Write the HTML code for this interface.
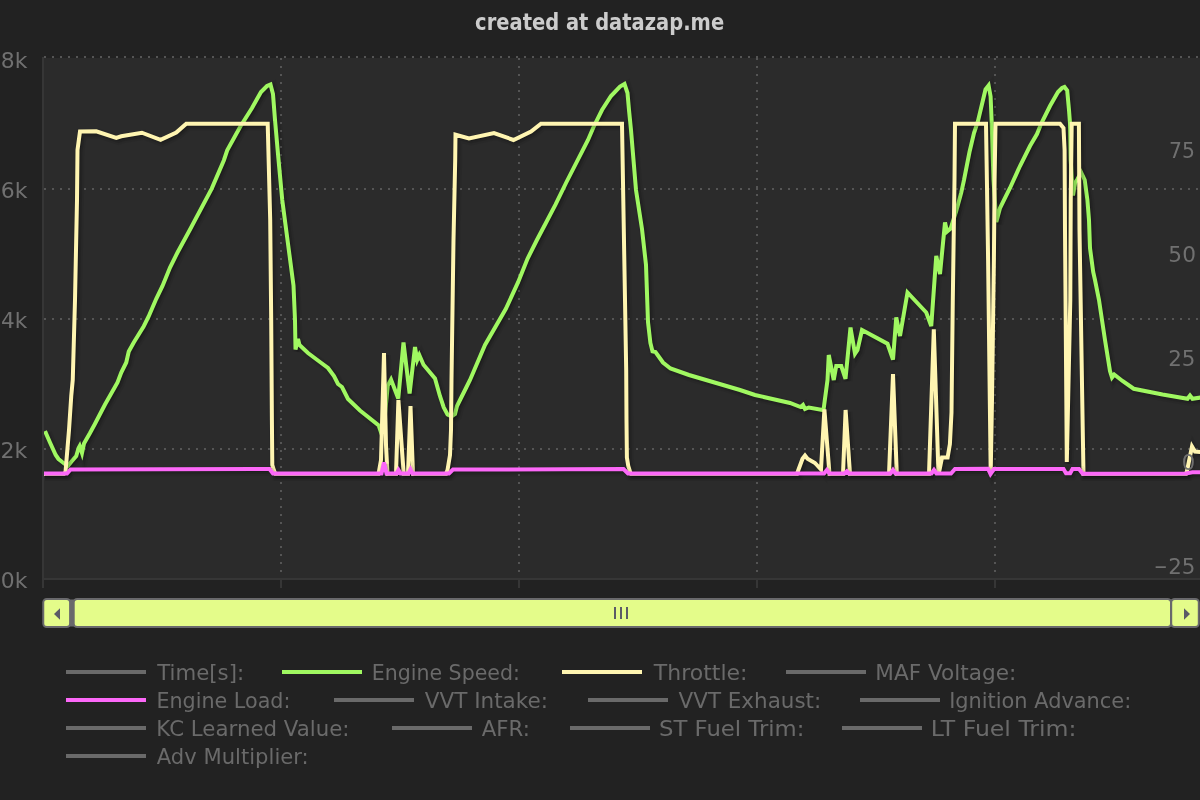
<!DOCTYPE html>
<html><head><meta charset="utf-8"><title>created at datazap.me</title>
<style>
html,body{margin:0;padding:0;background:#222222;overflow:hidden}
svg{display:block}
text{font-family:"DejaVu Sans","Liberation Sans",sans-serif}
</style></head><body>
<svg width="1200" height="800" viewBox="0 0 1200 800">
<rect x="0" y="0" width="1200" height="800" fill="#222222"/>
<rect x="42" y="58" width="1160" height="522" fill="#2b2b2b"/>

<path d="M44 57 L1204 57" stroke="#555555" stroke-width="2" stroke-dasharray="2,6" fill="none"/>
<path d="M44 189 L1204 189" stroke="#555555" stroke-width="2" stroke-dasharray="2,6" fill="none"/>
<path d="M44 319 L1204 319" stroke="#555555" stroke-width="2" stroke-dasharray="2,6" fill="none"/>
<path d="M44 449 L1204 449" stroke="#555555" stroke-width="2" stroke-dasharray="2,6" fill="none"/>
<path d="M281 58 L281 578" stroke="#555555" stroke-width="2" stroke-dasharray="2,6" fill="none"/>
<path d="M281 580 L281 588" stroke="#363636" stroke-width="2" fill="none"/>
<path d="M519 58 L519 578" stroke="#555555" stroke-width="2" stroke-dasharray="2,6" fill="none"/>
<path d="M519 580 L519 588" stroke="#363636" stroke-width="2" fill="none"/>
<path d="M757 58 L757 578" stroke="#555555" stroke-width="2" stroke-dasharray="2,6" fill="none"/>
<path d="M757 580 L757 588" stroke="#363636" stroke-width="2" fill="none"/>
<path d="M995 58 L995 578" stroke="#555555" stroke-width="2" stroke-dasharray="2,6" fill="none"/>
<path d="M995 580 L995 588" stroke="#363636" stroke-width="2" fill="none"/>
<path d="M43 57 L43 588" stroke="#363636" stroke-width="2" fill="none"/>
<path d="M42 579 L1204 579" stroke="#363636" stroke-width="2" fill="none"/>
<defs><clipPath id="pc"><rect x="44" y="50" width="1160" height="531"/></clipPath></defs>
<g clip-path="url(#pc)">
<path d="M45 431 L50 442.5 L55.7 455 L58.5 459 L62.25 462 L65 464 L68 465.8 L71.5 461.5 L76.25 456 L78.6 448 L79.7 446 L82 453 L84 443.5 L90 433 L95 423.75 L105 404.5 L117.5 382.5 L121.25 372.5 L126.25 362.5 L128.75 351.5 L133.75 342.5 L143.75 326.25 L148.75 316.25 L156.25 298.75 L162.5 286 L170 267.5 L177.5 252.5 L189.75 230 L211.7 188.6 L223.9 160.2 L227.2 150.4 L240.2 126.8 L252 108 L261 92 L267 86 L270.5 84.5 L273 94 L275 120 L278 154 L282.25 200 L293.5 285.5 L295 320 L295.5 349.5 L298 339 L299.5 345 L308 353 L320 362 L328 368 L334 376 L338 384 L342 387 L348 399 L360 410.5 L378.75 425.5 L380.6 431 L384 425 L387.75 385.5 L391 379.5 L398.25 398.5 L403.5 342.5 L409.6 393.5 L415 347 L417.2 360 L419.3 355 L423.5 364.7 L435 378.5 L440 396.25 L443.75 407.5 L447.5 414.4 L451.5 416.5 L455 414 L457 406 L461.25 397.5 L466.25 387.5 L470 380 L485 345 L506 308.5 L518.1 282.2 L527.5 258.75 L536.9 240 L546.25 222.2 L555.6 204.4 L566.25 182.5 L588 140 L594 126 L602 110 L611 96 L620 86.5 L624.5 84 L627.5 93 L629 110 L631 130 L636 190 L642 229 L646 265 L648 322 L650.4 343 L652.5 351.4 L655.5 352 L663 362.5 L670.5 368.5 L689 375 L740 390 L755 395 L790 403 L800.6 407 L803 405 L805 409 L808.75 407.5 L822.5 410 L823.5 410 L827.5 380 L828.75 355 L833.75 380 L836.25 366 L841.25 366 L845.5 378.75 L850.5 327.5 L855 353.75 L857.5 350 L862 330 L887.5 343.75 L893 359.5 L896.25 317.5 L900 336 L907.5 292.5 L926.25 312.5 L931.25 326 L936.25 256 L940 274 L945 222.5 L947 231.5 L950.6 228.5 L956.25 211 L961.25 192.5 L964 180 L969.5 152 L974 133 L978 121 L985.5 89.5 L988.6 85.5 L990.6 96.5 L991.65 121 L992.2 140 L993.5 180 L996.3 222 L1000 208 L1010 188 L1020 166 L1030 146 L1037 134 L1041 124 L1050 106 L1058 92 L1062 88 L1064.5 87 L1067.2 90.5 L1069 110 L1070 123 L1070.7 160 L1073 195.5 L1075 183 L1077.5 179 L1081.2 172.5 L1084.7 180 L1087.4 200 L1089 220 L1090 248 L1093.2 272 L1095 280 L1099 300 L1105 340 L1110 371 L1112 377.5 L1114.25 374.5 L1122.5 381 L1133.75 388.75 L1162.5 394.5 L1187.5 398.75 L1190 395.5 L1192.5 398.75 L1204 397" fill="none" stroke="#000" stroke-opacity="0.05" stroke-width="10" transform="translate(2,2)"/>
<path d="M45 431 L50 442.5 L55.7 455 L58.5 459 L62.25 462 L65 464 L68 465.8 L71.5 461.5 L76.25 456 L78.6 448 L79.7 446 L82 453 L84 443.5 L90 433 L95 423.75 L105 404.5 L117.5 382.5 L121.25 372.5 L126.25 362.5 L128.75 351.5 L133.75 342.5 L143.75 326.25 L148.75 316.25 L156.25 298.75 L162.5 286 L170 267.5 L177.5 252.5 L189.75 230 L211.7 188.6 L223.9 160.2 L227.2 150.4 L240.2 126.8 L252 108 L261 92 L267 86 L270.5 84.5 L273 94 L275 120 L278 154 L282.25 200 L293.5 285.5 L295 320 L295.5 349.5 L298 339 L299.5 345 L308 353 L320 362 L328 368 L334 376 L338 384 L342 387 L348 399 L360 410.5 L378.75 425.5 L380.6 431 L384 425 L387.75 385.5 L391 379.5 L398.25 398.5 L403.5 342.5 L409.6 393.5 L415 347 L417.2 360 L419.3 355 L423.5 364.7 L435 378.5 L440 396.25 L443.75 407.5 L447.5 414.4 L451.5 416.5 L455 414 L457 406 L461.25 397.5 L466.25 387.5 L470 380 L485 345 L506 308.5 L518.1 282.2 L527.5 258.75 L536.9 240 L546.25 222.2 L555.6 204.4 L566.25 182.5 L588 140 L594 126 L602 110 L611 96 L620 86.5 L624.5 84 L627.5 93 L629 110 L631 130 L636 190 L642 229 L646 265 L648 322 L650.4 343 L652.5 351.4 L655.5 352 L663 362.5 L670.5 368.5 L689 375 L740 390 L755 395 L790 403 L800.6 407 L803 405 L805 409 L808.75 407.5 L822.5 410 L823.5 410 L827.5 380 L828.75 355 L833.75 380 L836.25 366 L841.25 366 L845.5 378.75 L850.5 327.5 L855 353.75 L857.5 350 L862 330 L887.5 343.75 L893 359.5 L896.25 317.5 L900 336 L907.5 292.5 L926.25 312.5 L931.25 326 L936.25 256 L940 274 L945 222.5 L947 231.5 L950.6 228.5 L956.25 211 L961.25 192.5 L964 180 L969.5 152 L974 133 L978 121 L985.5 89.5 L988.6 85.5 L990.6 96.5 L991.65 121 L992.2 140 L993.5 180 L996.3 222 L1000 208 L1010 188 L1020 166 L1030 146 L1037 134 L1041 124 L1050 106 L1058 92 L1062 88 L1064.5 87 L1067.2 90.5 L1069 110 L1070 123 L1070.7 160 L1073 195.5 L1075 183 L1077.5 179 L1081.2 172.5 L1084.7 180 L1087.4 200 L1089 220 L1090 248 L1093.2 272 L1095 280 L1099 300 L1105 340 L1110 371 L1112 377.5 L1114.25 374.5 L1122.5 381 L1133.75 388.75 L1162.5 394.5 L1187.5 398.75 L1190 395.5 L1192.5 398.75 L1204 397" fill="none" stroke="#000" stroke-opacity="0.10" stroke-width="6" transform="translate(2,2)"/>
<path d="M45 431 L50 442.5 L55.7 455 L58.5 459 L62.25 462 L65 464 L68 465.8 L71.5 461.5 L76.25 456 L78.6 448 L79.7 446 L82 453 L84 443.5 L90 433 L95 423.75 L105 404.5 L117.5 382.5 L121.25 372.5 L126.25 362.5 L128.75 351.5 L133.75 342.5 L143.75 326.25 L148.75 316.25 L156.25 298.75 L162.5 286 L170 267.5 L177.5 252.5 L189.75 230 L211.7 188.6 L223.9 160.2 L227.2 150.4 L240.2 126.8 L252 108 L261 92 L267 86 L270.5 84.5 L273 94 L275 120 L278 154 L282.25 200 L293.5 285.5 L295 320 L295.5 349.5 L298 339 L299.5 345 L308 353 L320 362 L328 368 L334 376 L338 384 L342 387 L348 399 L360 410.5 L378.75 425.5 L380.6 431 L384 425 L387.75 385.5 L391 379.5 L398.25 398.5 L403.5 342.5 L409.6 393.5 L415 347 L417.2 360 L419.3 355 L423.5 364.7 L435 378.5 L440 396.25 L443.75 407.5 L447.5 414.4 L451.5 416.5 L455 414 L457 406 L461.25 397.5 L466.25 387.5 L470 380 L485 345 L506 308.5 L518.1 282.2 L527.5 258.75 L536.9 240 L546.25 222.2 L555.6 204.4 L566.25 182.5 L588 140 L594 126 L602 110 L611 96 L620 86.5 L624.5 84 L627.5 93 L629 110 L631 130 L636 190 L642 229 L646 265 L648 322 L650.4 343 L652.5 351.4 L655.5 352 L663 362.5 L670.5 368.5 L689 375 L740 390 L755 395 L790 403 L800.6 407 L803 405 L805 409 L808.75 407.5 L822.5 410 L823.5 410 L827.5 380 L828.75 355 L833.75 380 L836.25 366 L841.25 366 L845.5 378.75 L850.5 327.5 L855 353.75 L857.5 350 L862 330 L887.5 343.75 L893 359.5 L896.25 317.5 L900 336 L907.5 292.5 L926.25 312.5 L931.25 326 L936.25 256 L940 274 L945 222.5 L947 231.5 L950.6 228.5 L956.25 211 L961.25 192.5 L964 180 L969.5 152 L974 133 L978 121 L985.5 89.5 L988.6 85.5 L990.6 96.5 L991.65 121 L992.2 140 L993.5 180 L996.3 222 L1000 208 L1010 188 L1020 166 L1030 146 L1037 134 L1041 124 L1050 106 L1058 92 L1062 88 L1064.5 87 L1067.2 90.5 L1069 110 L1070 123 L1070.7 160 L1073 195.5 L1075 183 L1077.5 179 L1081.2 172.5 L1084.7 180 L1087.4 200 L1089 220 L1090 248 L1093.2 272 L1095 280 L1099 300 L1105 340 L1110 371 L1112 377.5 L1114.25 374.5 L1122.5 381 L1133.75 388.75 L1162.5 394.5 L1187.5 398.75 L1190 395.5 L1192.5 398.75 L1204 397" fill="none" stroke="#000" stroke-opacity="0.15" stroke-width="2" transform="translate(2,2)"/>
<path d="M45 431 L50 442.5 L55.7 455 L58.5 459 L62.25 462 L65 464 L68 465.8 L71.5 461.5 L76.25 456 L78.6 448 L79.7 446 L82 453 L84 443.5 L90 433 L95 423.75 L105 404.5 L117.5 382.5 L121.25 372.5 L126.25 362.5 L128.75 351.5 L133.75 342.5 L143.75 326.25 L148.75 316.25 L156.25 298.75 L162.5 286 L170 267.5 L177.5 252.5 L189.75 230 L211.7 188.6 L223.9 160.2 L227.2 150.4 L240.2 126.8 L252 108 L261 92 L267 86 L270.5 84.5 L273 94 L275 120 L278 154 L282.25 200 L293.5 285.5 L295 320 L295.5 349.5 L298 339 L299.5 345 L308 353 L320 362 L328 368 L334 376 L338 384 L342 387 L348 399 L360 410.5 L378.75 425.5 L380.6 431 L384 425 L387.75 385.5 L391 379.5 L398.25 398.5 L403.5 342.5 L409.6 393.5 L415 347 L417.2 360 L419.3 355 L423.5 364.7 L435 378.5 L440 396.25 L443.75 407.5 L447.5 414.4 L451.5 416.5 L455 414 L457 406 L461.25 397.5 L466.25 387.5 L470 380 L485 345 L506 308.5 L518.1 282.2 L527.5 258.75 L536.9 240 L546.25 222.2 L555.6 204.4 L566.25 182.5 L588 140 L594 126 L602 110 L611 96 L620 86.5 L624.5 84 L627.5 93 L629 110 L631 130 L636 190 L642 229 L646 265 L648 322 L650.4 343 L652.5 351.4 L655.5 352 L663 362.5 L670.5 368.5 L689 375 L740 390 L755 395 L790 403 L800.6 407 L803 405 L805 409 L808.75 407.5 L822.5 410 L823.5 410 L827.5 380 L828.75 355 L833.75 380 L836.25 366 L841.25 366 L845.5 378.75 L850.5 327.5 L855 353.75 L857.5 350 L862 330 L887.5 343.75 L893 359.5 L896.25 317.5 L900 336 L907.5 292.5 L926.25 312.5 L931.25 326 L936.25 256 L940 274 L945 222.5 L947 231.5 L950.6 228.5 L956.25 211 L961.25 192.5 L964 180 L969.5 152 L974 133 L978 121 L985.5 89.5 L988.6 85.5 L990.6 96.5 L991.65 121 L992.2 140 L993.5 180 L996.3 222 L1000 208 L1010 188 L1020 166 L1030 146 L1037 134 L1041 124 L1050 106 L1058 92 L1062 88 L1064.5 87 L1067.2 90.5 L1069 110 L1070 123 L1070.7 160 L1073 195.5 L1075 183 L1077.5 179 L1081.2 172.5 L1084.7 180 L1087.4 200 L1089 220 L1090 248 L1093.2 272 L1095 280 L1099 300 L1105 340 L1110 371 L1112 377.5 L1114.25 374.5 L1122.5 381 L1133.75 388.75 L1162.5 394.5 L1187.5 398.75 L1190 395.5 L1192.5 398.75 L1204 397" fill="none" stroke="#a0f861" stroke-width="4"/>
<path d="M43 474 L64 474 L65.5 472 L69 430 L71.25 396 L72.75 380 L75 300 L77 200 L77.5 150 L80 131.5 L96.25 131.25 L116.25 138 L121.25 136.25 L141.9 132.75 L160.6 139.75 L176.25 132.5 L186.25 123.7 L267.7 123.7 L270.2 220 L271.2 320 L271.9 420 L272.3 465 L274 470.5 L275.5 474 L378.5 474 L381 460 L384 353 L386 445 L387.5 474 L396 474 L398.4 400 L403.7 474 L408 474 L410.5 406 L413 474 L446 474 L447.5 470 L450 455 L451 430 L451.5 380 L453.5 240 L455.2 160 L455.5 134.7 L469 138.5 L494 133 L513.5 140 L531 131.5 L541 123.7 L622 123.7 L626.2 370 L626.5 420 L626.9 457.5 L628.3 466 L630.5 473 L631 474 L797 474 L798 471 L802.5 458.75 L805 455.5 L807.5 458.75 L815 463 L821 469.5 L824.4 409.4 L829.5 474 L843 474 L845.6 410 L850 474 L889 474 L893 374 L896.8 474 L929 474 L933.8 329.3 L938.5 474 L939.5 470 L942 457.5 L947.6 457.5 L949.9 444 L951.5 412.5 L952.8 300 L954.5 180 L955 123.7 L986 123.7 L986.9 180 L988.1 260 L989.8 400 L990.7 473 L992 400 L993.9 260 L994.6 180 L995.5 123.7 L1060 123.7 L1063.5 128 L1064.6 150 L1065 230 L1066.8 462 L1070.3 300 L1070.75 200 L1071.7 123.7 L1078.9 123.7 L1079.5 230 L1082.75 430 L1083.5 474 L1186 474 L1187 471 L1192 446.5 L1195 451.5 L1204 452.5" fill="none" stroke="#000" stroke-opacity="0.05" stroke-width="10" transform="translate(2,2)"/>
<path d="M43 474 L64 474 L65.5 472 L69 430 L71.25 396 L72.75 380 L75 300 L77 200 L77.5 150 L80 131.5 L96.25 131.25 L116.25 138 L121.25 136.25 L141.9 132.75 L160.6 139.75 L176.25 132.5 L186.25 123.7 L267.7 123.7 L270.2 220 L271.2 320 L271.9 420 L272.3 465 L274 470.5 L275.5 474 L378.5 474 L381 460 L384 353 L386 445 L387.5 474 L396 474 L398.4 400 L403.7 474 L408 474 L410.5 406 L413 474 L446 474 L447.5 470 L450 455 L451 430 L451.5 380 L453.5 240 L455.2 160 L455.5 134.7 L469 138.5 L494 133 L513.5 140 L531 131.5 L541 123.7 L622 123.7 L626.2 370 L626.5 420 L626.9 457.5 L628.3 466 L630.5 473 L631 474 L797 474 L798 471 L802.5 458.75 L805 455.5 L807.5 458.75 L815 463 L821 469.5 L824.4 409.4 L829.5 474 L843 474 L845.6 410 L850 474 L889 474 L893 374 L896.8 474 L929 474 L933.8 329.3 L938.5 474 L939.5 470 L942 457.5 L947.6 457.5 L949.9 444 L951.5 412.5 L952.8 300 L954.5 180 L955 123.7 L986 123.7 L986.9 180 L988.1 260 L989.8 400 L990.7 473 L992 400 L993.9 260 L994.6 180 L995.5 123.7 L1060 123.7 L1063.5 128 L1064.6 150 L1065 230 L1066.8 462 L1070.3 300 L1070.75 200 L1071.7 123.7 L1078.9 123.7 L1079.5 230 L1082.75 430 L1083.5 474 L1186 474 L1187 471 L1192 446.5 L1195 451.5 L1204 452.5" fill="none" stroke="#000" stroke-opacity="0.10" stroke-width="6" transform="translate(2,2)"/>
<path d="M43 474 L64 474 L65.5 472 L69 430 L71.25 396 L72.75 380 L75 300 L77 200 L77.5 150 L80 131.5 L96.25 131.25 L116.25 138 L121.25 136.25 L141.9 132.75 L160.6 139.75 L176.25 132.5 L186.25 123.7 L267.7 123.7 L270.2 220 L271.2 320 L271.9 420 L272.3 465 L274 470.5 L275.5 474 L378.5 474 L381 460 L384 353 L386 445 L387.5 474 L396 474 L398.4 400 L403.7 474 L408 474 L410.5 406 L413 474 L446 474 L447.5 470 L450 455 L451 430 L451.5 380 L453.5 240 L455.2 160 L455.5 134.7 L469 138.5 L494 133 L513.5 140 L531 131.5 L541 123.7 L622 123.7 L626.2 370 L626.5 420 L626.9 457.5 L628.3 466 L630.5 473 L631 474 L797 474 L798 471 L802.5 458.75 L805 455.5 L807.5 458.75 L815 463 L821 469.5 L824.4 409.4 L829.5 474 L843 474 L845.6 410 L850 474 L889 474 L893 374 L896.8 474 L929 474 L933.8 329.3 L938.5 474 L939.5 470 L942 457.5 L947.6 457.5 L949.9 444 L951.5 412.5 L952.8 300 L954.5 180 L955 123.7 L986 123.7 L986.9 180 L988.1 260 L989.8 400 L990.7 473 L992 400 L993.9 260 L994.6 180 L995.5 123.7 L1060 123.7 L1063.5 128 L1064.6 150 L1065 230 L1066.8 462 L1070.3 300 L1070.75 200 L1071.7 123.7 L1078.9 123.7 L1079.5 230 L1082.75 430 L1083.5 474 L1186 474 L1187 471 L1192 446.5 L1195 451.5 L1204 452.5" fill="none" stroke="#000" stroke-opacity="0.15" stroke-width="2" transform="translate(2,2)"/>
<path d="M43 474 L64 474 L65.5 472 L69 430 L71.25 396 L72.75 380 L75 300 L77 200 L77.5 150 L80 131.5 L96.25 131.25 L116.25 138 L121.25 136.25 L141.9 132.75 L160.6 139.75 L176.25 132.5 L186.25 123.7 L267.7 123.7 L270.2 220 L271.2 320 L271.9 420 L272.3 465 L274 470.5 L275.5 474 L378.5 474 L381 460 L384 353 L386 445 L387.5 474 L396 474 L398.4 400 L403.7 474 L408 474 L410.5 406 L413 474 L446 474 L447.5 470 L450 455 L451 430 L451.5 380 L453.5 240 L455.2 160 L455.5 134.7 L469 138.5 L494 133 L513.5 140 L531 131.5 L541 123.7 L622 123.7 L626.2 370 L626.5 420 L626.9 457.5 L628.3 466 L630.5 473 L631 474 L797 474 L798 471 L802.5 458.75 L805 455.5 L807.5 458.75 L815 463 L821 469.5 L824.4 409.4 L829.5 474 L843 474 L845.6 410 L850 474 L889 474 L893 374 L896.8 474 L929 474 L933.8 329.3 L938.5 474 L939.5 470 L942 457.5 L947.6 457.5 L949.9 444 L951.5 412.5 L952.8 300 L954.5 180 L955 123.7 L986 123.7 L986.9 180 L988.1 260 L989.8 400 L990.7 473 L992 400 L993.9 260 L994.6 180 L995.5 123.7 L1060 123.7 L1063.5 128 L1064.6 150 L1065 230 L1066.8 462 L1070.3 300 L1070.75 200 L1071.7 123.7 L1078.9 123.7 L1079.5 230 L1082.75 430 L1083.5 474 L1186 474 L1187 471 L1192 446.5 L1195 451.5 L1204 452.5" fill="none" stroke="#fff5b1" stroke-width="4"/>
<path d="M43 473.5 L67 473.5 L70.6 469.4 L269.5 469 L273 473.5 L381.5 473.5 L384 462.5 L386.5 473.5 L396.5 473.5 L398.5 470 L400.5 473.5 L408.5 473.5 L410.5 469.5 L412.5 473.5 L449 473.5 L453 469.6 L623.5 469 L628 473.5 L824 473.5 L826.9 470 L829.5 473.5 L844.5 473.5 L846.9 471.3 L849 473.5 L890.5 473.5 L893 470 L895.5 473.5 L931.5 473.5 L934 470 L936.5 473.5 L951 473.5 L955 469 L988 468.75 L990.5 474 L994 469 L1063.5 469 L1066 473.2 L1070.2 473.2 L1072.5 469 L1079 469 L1082.75 473.8 L1186 473.5 L1192.5 472.3 L1204 472.3" fill="none" stroke="#000" stroke-opacity="0.05" stroke-width="10" transform="translate(2,2)"/>
<path d="M43 473.5 L67 473.5 L70.6 469.4 L269.5 469 L273 473.5 L381.5 473.5 L384 462.5 L386.5 473.5 L396.5 473.5 L398.5 470 L400.5 473.5 L408.5 473.5 L410.5 469.5 L412.5 473.5 L449 473.5 L453 469.6 L623.5 469 L628 473.5 L824 473.5 L826.9 470 L829.5 473.5 L844.5 473.5 L846.9 471.3 L849 473.5 L890.5 473.5 L893 470 L895.5 473.5 L931.5 473.5 L934 470 L936.5 473.5 L951 473.5 L955 469 L988 468.75 L990.5 474 L994 469 L1063.5 469 L1066 473.2 L1070.2 473.2 L1072.5 469 L1079 469 L1082.75 473.8 L1186 473.5 L1192.5 472.3 L1204 472.3" fill="none" stroke="#000" stroke-opacity="0.10" stroke-width="6" transform="translate(2,2)"/>
<path d="M43 473.5 L67 473.5 L70.6 469.4 L269.5 469 L273 473.5 L381.5 473.5 L384 462.5 L386.5 473.5 L396.5 473.5 L398.5 470 L400.5 473.5 L408.5 473.5 L410.5 469.5 L412.5 473.5 L449 473.5 L453 469.6 L623.5 469 L628 473.5 L824 473.5 L826.9 470 L829.5 473.5 L844.5 473.5 L846.9 471.3 L849 473.5 L890.5 473.5 L893 470 L895.5 473.5 L931.5 473.5 L934 470 L936.5 473.5 L951 473.5 L955 469 L988 468.75 L990.5 474 L994 469 L1063.5 469 L1066 473.2 L1070.2 473.2 L1072.5 469 L1079 469 L1082.75 473.8 L1186 473.5 L1192.5 472.3 L1204 472.3" fill="none" stroke="#000" stroke-opacity="0.15" stroke-width="2" transform="translate(2,2)"/>
<path d="M43 473.5 L67 473.5 L70.6 469.4 L269.5 469 L273 473.5 L381.5 473.5 L384 462.5 L386.5 473.5 L396.5 473.5 L398.5 470 L400.5 473.5 L408.5 473.5 L410.5 469.5 L412.5 473.5 L449 473.5 L453 469.6 L623.5 469 L628 473.5 L824 473.5 L826.9 470 L829.5 473.5 L844.5 473.5 L846.9 471.3 L849 473.5 L890.5 473.5 L893 470 L895.5 473.5 L931.5 473.5 L934 470 L936.5 473.5 L951 473.5 L955 469 L988 468.75 L990.5 474 L994 469 L1063.5 469 L1066 473.2 L1070.2 473.2 L1072.5 469 L1079 469 L1082.75 473.8 L1186 473.5 L1192.5 472.3 L1204 472.3" fill="none" stroke="#fc68f8" stroke-width="4"/>
</g>
<text x="475.12" y="29.9" font-size="22.3" font-weight="bold" fill="#cccccc" textLength="248.99" lengthAdjust="spacingAndGlyphs">created at datazap.me</text>
<text x="0.78" y="68.25" font-size="21.4" fill="#707070" textLength="26.59" lengthAdjust="spacingAndGlyphs">8k</text>
<text x="0.66" y="198.25" font-size="21.4" fill="#707070" textLength="26.71" lengthAdjust="spacingAndGlyphs">6k</text>
<text x="1.12" y="328.25" font-size="21.4" fill="#707070" textLength="26.25" lengthAdjust="spacingAndGlyphs">4k</text>
<text x="0.54" y="458.25" font-size="21.4" fill="#707070" textLength="26.82" lengthAdjust="spacingAndGlyphs">2k</text>
<text x="0.78" y="588.25" font-size="21.4" fill="#707070" textLength="26.59" lengthAdjust="spacingAndGlyphs">0k</text>
<text x="1169.12" y="158" font-size="21.4" fill="#707070" textLength="25.91" lengthAdjust="spacingAndGlyphs">75</text>
<text x="1168.37" y="262" font-size="21.4" fill="#707070" textLength="27.59" lengthAdjust="spacingAndGlyphs">50</text>
<text x="1168.15" y="366" font-size="21.4" fill="#707070" textLength="27.23" lengthAdjust="spacingAndGlyphs">25</text>
<text x="1181.73" y="469.8" font-size="21.4" fill="#707070" textLength="13.42" lengthAdjust="spacingAndGlyphs">0</text>
<text y="574" font-size="21.4" fill="#707070"><tspan x="1153.82" dy="-1" textLength="13.96" lengthAdjust="spacingAndGlyphs">-</tspan><tspan x="1168.15" dy="1" textLength="27.23" lengthAdjust="spacingAndGlyphs">25</tspan></text>
<rect x="46" y="599.5" width="1150" height="27" fill="#69696c"/>
<rect x="43.25" y="599" width="26.85" height="28" rx="3.5" fill="#e4fc8a" stroke="#69696c" stroke-width="2"/>
<rect x="73.7" y="599" width="1097.3" height="28" rx="3.5" fill="#e4fc8a" stroke="#69696c" stroke-width="2"/>
<rect x="1171.2" y="599" width="27.6" height="28" rx="3.5" fill="#e4fc8a" stroke="#69696c" stroke-width="2"/>
<path d="M54 614 L60 608.3 L60 619.7 Z" fill="#5b5b66"/>
<path d="M1190 614 L1184 608.3 L1184 619.7 Z" fill="#5b5b66"/>
<path d="M615 607 L615 619" stroke="#5b5b66" stroke-width="2" fill="none"/>
<path d="M621 607 L621 619" stroke="#5b5b66" stroke-width="2" fill="none"/>
<path d="M627 607 L627 619" stroke="#5b5b66" stroke-width="2" fill="none"/>
<path d="M66 672 L146 672" stroke="#6a6a6a" stroke-width="4" fill="none"/>
<text x="157.21" y="680" font-size="21.4" fill="#6a6a6a" textLength="86.95" lengthAdjust="spacingAndGlyphs">Time[s]:</text>
<path d="M282 672 L362 672" stroke="#a0f861" stroke-width="4" fill="none"/>
<text x="371.70" y="680" font-size="21.4" fill="#6a6a6a" textLength="148.21" lengthAdjust="spacingAndGlyphs">Engine Speed:</text>
<path d="M562 672 L642 672" stroke="#fff5b1" stroke-width="4" fill="none"/>
<text x="653.86" y="680" font-size="21.4" fill="#6a6a6a" textLength="93.67" lengthAdjust="spacingAndGlyphs">Throttle:</text>
<path d="M786 672 L866 672" stroke="#6a6a6a" stroke-width="4" fill="none"/>
<text x="875.34" y="680" font-size="21.4" fill="#6a6a6a" textLength="140.95" lengthAdjust="spacingAndGlyphs">MAF Voltage:</text>
<path d="M66 700 L146 700" stroke="#fc68f8" stroke-width="4" fill="none"/>
<text x="156.43" y="708" font-size="21.4" fill="#6a6a6a" textLength="133.97" lengthAdjust="spacingAndGlyphs">Engine Load:</text>
<path d="M334 700 L414 700" stroke="#6a6a6a" stroke-width="4" fill="none"/>
<text x="424.78" y="708" font-size="21.4" fill="#6a6a6a" textLength="123.22" lengthAdjust="spacingAndGlyphs">VVT Intake:</text>
<path d="M588 700 L668 700" stroke="#6a6a6a" stroke-width="4" fill="none"/>
<text x="678.54" y="708" font-size="21.4" fill="#6a6a6a" textLength="142.71" lengthAdjust="spacingAndGlyphs">VVT Exhaust:</text>
<path d="M860 700 L940 700" stroke="#6a6a6a" stroke-width="4" fill="none"/>
<text x="949.16" y="708" font-size="21.4" fill="#6a6a6a" textLength="182.02" lengthAdjust="spacingAndGlyphs">Ignition Advance:</text>
<path d="M66 728 L146 728" stroke="#6a6a6a" stroke-width="4" fill="none"/>
<text x="156.37" y="736" font-size="21.4" fill="#6a6a6a" textLength="193.15" lengthAdjust="spacingAndGlyphs">KC Learned Value:</text>
<path d="M392 728 L472 728" stroke="#6a6a6a" stroke-width="4" fill="none"/>
<text x="481.79" y="736" font-size="21.4" fill="#6a6a6a" textLength="48.17" lengthAdjust="spacingAndGlyphs">AFR:</text>
<path d="M570 728 L650 728" stroke="#6a6a6a" stroke-width="4" fill="none"/>
<text x="659.02" y="736" font-size="21.4" fill="#6a6a6a" textLength="145.41" lengthAdjust="spacingAndGlyphs">ST Fuel Trim:</text>
<path d="M842 728 L922 728" stroke="#6a6a6a" stroke-width="4" fill="none"/>
<text x="930.89" y="736" font-size="21.4" fill="#6a6a6a" textLength="145.63" lengthAdjust="spacingAndGlyphs">LT Fuel Trim:</text>
<path d="M66 756 L146 756" stroke="#6a6a6a" stroke-width="4" fill="none"/>
<text x="156.79" y="764" font-size="21.4" fill="#6a6a6a" textLength="151.92" lengthAdjust="spacingAndGlyphs">Adv Multiplier:</text>
</svg></body></html>
